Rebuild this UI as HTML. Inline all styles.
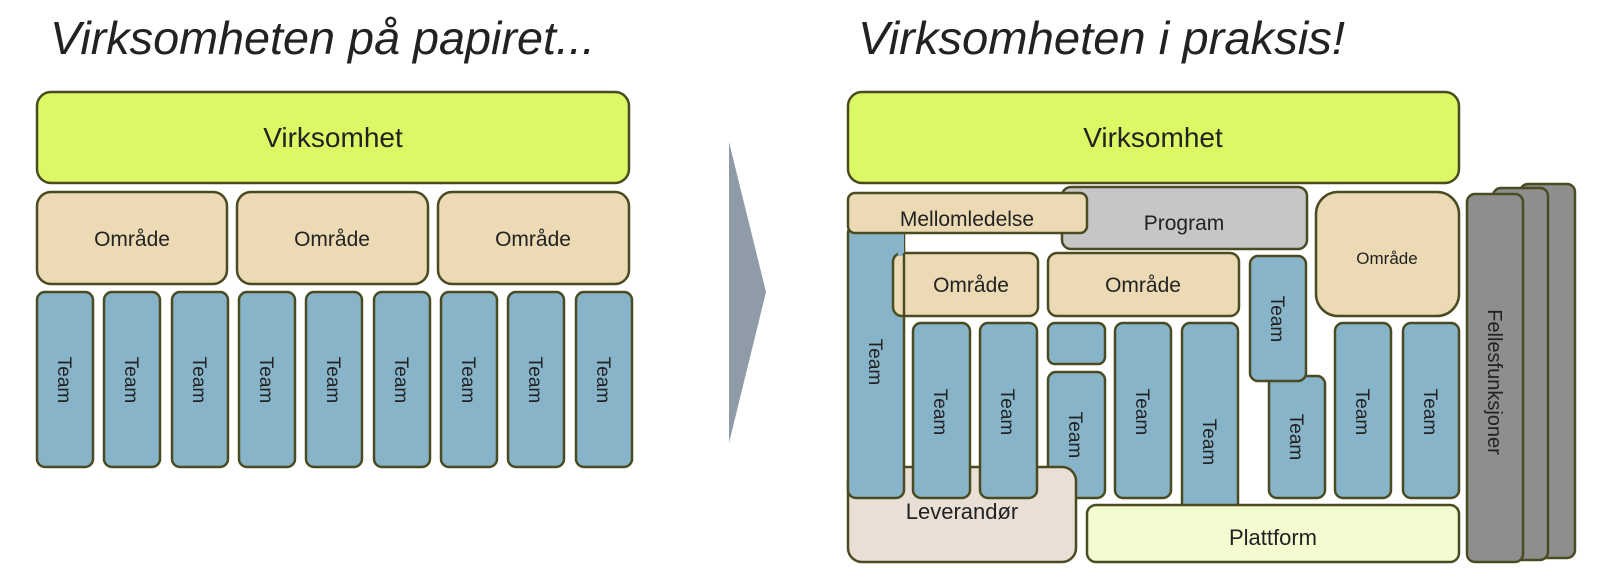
<!DOCTYPE html>
<html><head><meta charset="utf-8"><style>
html,body{margin:0;padding:0;background:#fff;}
svg{display:block;}
text{font-family:"Liberation Sans",sans-serif;fill:#222;}
</style></head><body>
<svg width="1604" height="578" viewBox="0 0 1604 578" xmlns="http://www.w3.org/2000/svg">
<g stroke="#4b4b22" stroke-width="2.5">
<!-- LEFT -->
<rect x="37" y="92" width="592" height="91" rx="14" fill="#dcf864"/>
<rect x="37" y="192" width="190" height="92" rx="14" fill="#ecdab4"/>
<rect x="237" y="192" width="191" height="92" rx="14" fill="#ecdab4"/>
<rect x="438" y="192" width="191" height="92" rx="14" fill="#ecdab4"/>
<rect x="37" y="292" width="56" height="175" rx="8" fill="#88b4c9"/>
<rect x="104" y="292" width="56" height="175" rx="8" fill="#88b4c9"/>
<rect x="172" y="292" width="56" height="175" rx="8" fill="#88b4c9"/>
<rect x="239" y="292" width="56" height="175" rx="8" fill="#88b4c9"/>
<rect x="306" y="292" width="56" height="175" rx="8" fill="#88b4c9"/>
<rect x="374" y="292" width="56" height="175" rx="8" fill="#88b4c9"/>
<rect x="441" y="292" width="56" height="175" rx="8" fill="#88b4c9"/>
<rect x="508" y="292" width="56" height="175" rx="8" fill="#88b4c9"/>
<rect x="576" y="292" width="56" height="175" rx="8" fill="#88b4c9"/>
</g>
<polygon points="729,142 766,292 729,443" fill="#8f9ba6"/>
<g stroke="#4b4b22" stroke-width="2.5">
<!-- RIGHT -->
<rect x="848" y="92" width="611" height="91" rx="14" fill="#dcf864"/>
<rect x="1520" y="184" width="55" height="374" rx="8" fill="#8e8e8e"/>
<rect x="1493" y="188" width="55" height="372" rx="8" fill="#8e8e8e"/>
<rect x="1467" y="194" width="56" height="368" rx="8" fill="#8e8e8e"/>
<rect x="1062" y="187" width="245" height="62" rx="9" fill="#c6c6c6"/>
<rect x="1316" y="192" width="143" height="124" rx="22" fill="#ecdab4"/>
<rect x="1182" y="323" width="56" height="190" rx="8" fill="#88b4c9"/>
<rect x="1087" y="505" width="372" height="57" rx="9" fill="#f3fbd0"/>
<rect x="1048" y="372" width="57" height="126" rx="8" fill="#88b4c9"/>
<rect x="848" y="467" width="228" height="95" rx="14" fill="#e9dfd5"/>
<rect x="848" y="225" width="56" height="273" rx="8" fill="#88b4c9"/>
<rect x="893" y="253" width="145" height="63" rx="9" fill="#ecdab4"/>
<rect x="898" y="226" width="6" height="30" fill="#88b4c9" stroke="none"/>
<rect x="848" y="193" width="239" height="40" rx="7" fill="#ecdab4"/>
<rect x="1048" y="253" width="191" height="63" rx="9" fill="#ecdab4"/>
<rect x="913" y="323" width="57" height="175" rx="8" fill="#88b4c9"/>
<rect x="980" y="323" width="57" height="175" rx="8" fill="#88b4c9"/>
<rect x="1048" y="323" width="57" height="41" rx="7" fill="#88b4c9"/>
<rect x="1115" y="323" width="56" height="175" rx="8" fill="#88b4c9"/>
<rect x="1269" y="376" width="56" height="122" rx="8" fill="#88b4c9"/>
<rect x="1250" y="256" width="56" height="125" rx="8" fill="#88b4c9"/>
<rect x="1335" y="323" width="56" height="175" rx="8" fill="#88b4c9"/>
<rect x="1403" y="323" width="56" height="175" rx="8" fill="#88b4c9"/>
</g>
<line x1="904" y1="253" x2="904" y2="316" stroke="#4b4b22" stroke-width="2.5"/>

<!-- titles -->
<text x="50" y="54" font-size="46" font-style="italic" textLength="545" lengthAdjust="spacingAndGlyphs">Virksomheten på papiret...</text>
<text x="858" y="54" font-size="46" font-style="italic" textLength="487" lengthAdjust="spacingAndGlyphs">Virksomheten i praksis!</text>

<g text-anchor="middle">
<text x="333" y="147" font-size="28">Virksomhet</text>
<text x="132" y="246" font-size="21">Område</text>
<text x="332" y="246" font-size="21">Område</text>
<text x="533" y="246" font-size="21">Område</text>
<text x="1153" y="147" font-size="28">Virksomhet</text>
<text x="967" y="226" font-size="21">Mellomledelse</text>
<text x="1184" y="230" font-size="21">Program</text>
<text x="971" y="292" font-size="21">Område</text>
<text x="1143" y="292" font-size="21">Område</text>
<text x="1387" y="264" font-size="17">Område</text>
<text x="962" y="519" font-size="22">Leverandør</text>
<text x="1273" y="545" font-size="22">Plattform</text>
</g>
<g font-size="19" text-anchor="middle">
<text transform="translate(58,380) rotate(90)">Team</text>
<text transform="translate(125,380) rotate(90)">Team</text>
<text transform="translate(193,380) rotate(90)">Team</text>
<text transform="translate(260,380) rotate(90)">Team</text>
<text transform="translate(327,380) rotate(90)">Team</text>
<text transform="translate(395,380) rotate(90)">Team</text>
<text transform="translate(462,380) rotate(90)">Team</text>
<text transform="translate(529,380) rotate(90)">Team</text>
<text transform="translate(597,380) rotate(90)">Team</text>
<text transform="translate(869,362) rotate(90)">Team</text>
<text transform="translate(934,412) rotate(90)">Team</text>
<text transform="translate(1001,412) rotate(90)">Team</text>
<text transform="translate(1069,435) rotate(90)">Team</text>
<text transform="translate(1136,412) rotate(90)">Team</text>
<text transform="translate(1203,442) rotate(90)">Team</text>
<text transform="translate(1271,319) rotate(90)">Team</text>
<text transform="translate(1290,437) rotate(90)">Team</text>
<text transform="translate(1356,412) rotate(90)">Team</text>
<text transform="translate(1424,412) rotate(90)">Team</text>
<text transform="translate(1488,382) rotate(90)" font-size="20">Fellesfunksjoner</text>
</g>
</svg>
</body></html>
